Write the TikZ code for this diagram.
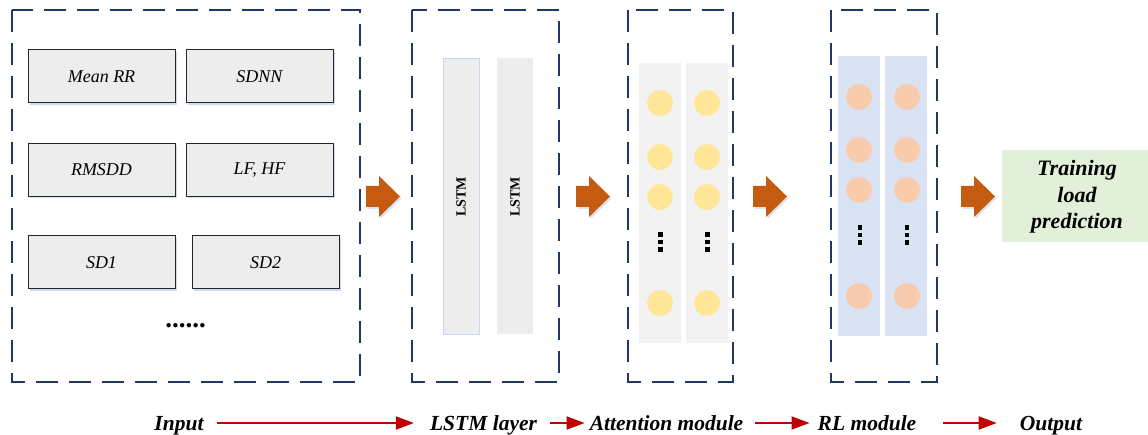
\documentclass[tikz,border=0pt]{standalone}
\usepackage{fontspec}
\setmainfont{Liberation Serif}
\usetikzlibrary{shadows,arrows.meta}
\definecolor{navy}{HTML}{203864}
\definecolor{boxgray}{HTML}{EDEDED}
\definecolor{colgray}{HTML}{F2F2F2}
\definecolor{colblue}{HTML}{DAE3F3}
\definecolor{dotyellow}{HTML}{FFE699}
\definecolor{dotpeach}{HTML}{F8CBAD}
\definecolor{outgreen}{HTML}{E2F0D9}
\definecolor{arroworange}{HTML}{C55A11}
\definecolor{arrowred}{HTML}{C00000}
\definecolor{lightblue}{HTML}{C9D6EE}
\tikzset{
  dashbox/.style={draw=navy, line width=2.6pt, dash pattern=on 22pt off 11pt},
  featbox/.style={draw=black!85, line width=1pt, fill=boxgray,
    drop shadow={shadow xshift=1.5pt, shadow yshift=-2pt, fill=lightblue, opacity=0.9},
    font=\fontsize{18}{20}\selectfont\itshape},
  unit/.style={circle, minimum size=26pt, inner sep=0pt, draw=none},
  flowlabel/.style={font=\fontsize{21.5}{24}\selectfont\bfseries\itshape, anchor=base, inner sep=0pt},
  flowarrow/.style={draw=arrowred, line width=1.8pt, -{Triangle[length=18pt,width=13pt]}},
  blockarrow/.pic={\fill[arroworange, drop shadow={shadow xshift=1.5pt, shadow yshift=-2pt, fill=lightblue, opacity=0.7}]
    (0,-10.5) -- (13,-10.5) -- (13,-20.5) -- (34,0) -- (13,20.5) -- (13,10.5) -- (0,10.5) -- cycle;},
  vdots/.pic={\foreach \yy in {-7.7,0,7.7} \fill[black] (-2.3,\yy-2.3) rectangle (2.3,\yy+2.3);}
}
\begin{document}
\begin{tikzpicture}[x=1pt,y=-1pt]
\useasboundingbox (0,0) rectangle (1148,435);
% dashed frames
\draw[dashbox] (12,10) rectangle (360,382);
\draw[dashbox] (412,10) rectangle (559,382);
\draw[dashbox] (628,10) rectangle (733,382);
\draw[dashbox] (831,10) rectangle (937,382);
% input features
\node[featbox, minimum width=147pt, minimum height=53pt] (meanrr) at (101.5,76.5) {Mean RR};
\node[featbox, minimum width=147pt, minimum height=53pt] (sdnn) at (259.5,76.5) {SDNN};
\node[featbox, minimum width=147pt, minimum height=53pt] (rmsdd) at (101.5,170) {RMSDD};
\node[featbox, minimum width=147pt, minimum height=53pt] (lfhf) at (259.5,170) {LF, HF};
\node[featbox, minimum width=147pt, minimum height=53pt] (sd1) at (101.5,262.5) {SD1};
\node[featbox, minimum width=147pt, minimum height=53pt] (sd2) at (265.5,262.5) {SD2};
\node[font=\fontsize{27}{28}\selectfont\bfseries, inner sep=0pt] (more) at (185.5,326) {......};
% LSTM bars
\node[draw=lightblue, line width=0.8pt, fill=boxgray, minimum width=36pt, minimum height=276pt, inner sep=0pt] (lstm1) at (461,196) {};
\node[fill=boxgray, minimum width=36pt, minimum height=276pt, inner sep=0pt] (lstm2) at (515,196) {};
\node[rotate=90, font=\fontsize{14}{16}\selectfont\bfseries] (lstmt1) at (461,197) {LSTM};
\node[rotate=90, font=\fontsize{14}{16}\selectfont\bfseries] (lstmt2) at (515,197) {LSTM};
% attention columns
\node[fill=colgray, minimum width=42pt, minimum height=280pt, inner sep=0pt] (att1) at (660,203) {};
\node[fill=colgray, minimum width=42pt, minimum height=280pt, inner sep=0pt] (att2) at (707,203) {};
\foreach \yy [count=\i] in {103,157,197,303} {
  \node[unit, fill=dotyellow] (a1\i) at (660,\yy) {};
  \node[unit, fill=dotyellow] (a2\i) at (707,\yy) {};
}
\pic at (660.5,242) {vdots};
\pic at (707.5,242) {vdots};
% RL columns
\node[fill=colblue, minimum width=42pt, minimum height=280pt, inner sep=0pt] (rl1) at (859,196) {};
\node[fill=colblue, minimum width=42pt, minimum height=280pt, inner sep=0pt] (rl2) at (906,196) {};
\foreach \yy [count=\i] in {97,150,190,296} {
  \node[unit, fill=dotpeach] (r1\i) at (859,\yy) {};
  \node[unit, fill=dotpeach] (r2\i) at (907,\yy) {};
}
\pic at (860,235) {vdots};
\pic at (907,235) {vdots};
% output
\node[fill=outgreen, minimum width=146pt, minimum height=92pt, inner sep=0pt] (out) at (1075,196) {};
\node[font=\fontsize{22}{26.5}\selectfont\bfseries\itshape, align=center] (outt) at (1077,197) {Training\\load\\prediction};
% block arrows
\pic at (366,196.5) {blockarrow};
\pic at (576,196.5) {blockarrow};
\pic at (753,196.5) {blockarrow};
\pic at (961,196.5) {blockarrow};
% bottom flow
\node[flowlabel] (lin) at (179,430) {Input};
\node[flowlabel] (llstm) at (483.5,430) {LSTM layer};
\node[flowlabel] (latt) at (666.5,430) {Attention module};
\node[flowlabel] (lrl) at (867,430) {RL module};
\node[flowlabel] (lout) at (1051,430) {Output};
\draw[flowarrow] ([xshift=13pt,yshift=7pt]lin.base east) -- ([xshift=-16pt,yshift=7pt]llstm.base west);
\draw[flowarrow] ([xshift=13pt,yshift=7pt]llstm.base east) -- ([xshift=-5pt,yshift=7pt]latt.base west);
\draw[flowarrow] ([xshift=12pt,yshift=7pt]latt.base east) -- ([xshift=-8pt,yshift=7pt]lrl.base west);
\draw[flowarrow] ([xshift=27pt,yshift=7pt]lrl.base east) -- ([xshift=-23pt,yshift=7pt]lout.base west);
\end{tikzpicture}
\end{document}
